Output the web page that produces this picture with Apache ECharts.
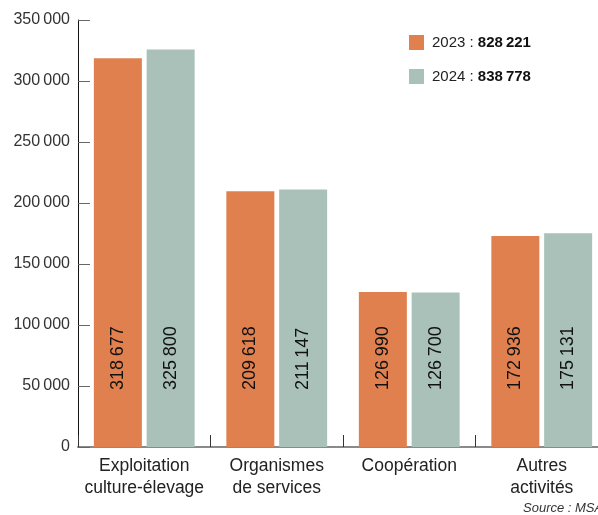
<!DOCTYPE html>
<html><head><meta charset="utf-8">
<script src="https://cdn.jsdelivr.net/npm/echarts@6/dist/echarts.min.js"></script>
<style>html,body{margin:0;padding:0;background:#fff}#c{width:598px;height:515px}</style>
</head><body><div id="c"></div>
<script>
const categories = ['Exploitation\nculture-élevage', 'Organismes\nde services', 'Coopération', 'Autres\nactivités'];
const years = ['2023', '2024'];
const values2023 = [318677, 209618, 126990, 172936];
const values2024 = [325800, 211147, 126700, 175131];
const yTicks = [0, 50000, 100000, 150000, 200000, 250000, 300000, 350000];
const colors = ['#E0804F', '#A9C1B9'];
const sourceText = 'Source : MSA';

function fmt(v) {
  return String(v).replace(/\B(?=(\d{3})+(?!\d))/g, '\u2009');
}
const totals = [values2023, values2024].map(a => a.reduce((s, v) => s + v, 0));
const FONT = '"Liberation Sans", Arial, sans-serif';

const chart = echarts.init(document.getElementById('c'));
const barLabel = {
  show: true, position: 'insideBottom', distance: 57, rotate: 90,
  align: 'left', verticalAlign: 'middle',
  fontFamily: FONT, fontSize: 18, color: '#111',
  formatter: p => fmt(p.value)
};
chart.setOption({
  animation: false,
  textStyle: { fontFamily: FONT },
  grid: { left: 78, top: 20, height: 427, width: 530, containLabel: false, outerBoundsMode: 'none' },
  legend: {
    orient: 'vertical', left: 404, top: 30, itemWidth: 15, itemHeight: 15, itemGap: 19,
    icon: 'rect',
    formatter: name => '{a|' + name + ' : }{b|' + fmt(totals[years.indexOf(name)]) + '}',
    textStyle: {
      padding: [0, 0, 0, 3],
      rich: {
        a: { fontFamily: FONT, fontSize: 15, color: '#222' },
        b: { fontFamily: FONT, fontSize: 15, color: '#111', fontWeight: 'bold' }
      }
    }
  },
  xAxis: {
    type: 'category', data: categories,
    axisLine: { lineStyle: { color: '#8a8a8a', width: 2 } },
    axisTick: { show: true, interval: 0, inside: true, length: 12, lineStyle: { color: '#333' } },
    axisLabel: { interval: 0, fontFamily: FONT, fontSize: 17.5, color: '#222', lineHeight: 22, margin: 8 }
  },
  yAxis: {
    type: 'value', min: yTicks[0], max: yTicks[yTicks.length - 1], interval: 50000,
    axisLine: { show: true, lineStyle: { color: '#111', width: 1 } },
    axisTick: { show: true, inside: true, length: 12, lineStyle: { color: '#666' } },
    splitLine: { show: false },
    axisLabel: { fontFamily: FONT, fontSize: 16, color: '#333', margin: 8, formatter: v => fmt(v) }
  },
  series: [
    { name: years[0], type: 'bar', data: values2023, barWidth: 48, barGap: '10%',
      itemStyle: { color: colors[0] }, label: barLabel },
    { name: years[1], type: 'bar', data: values2024, barWidth: 48, barGap: '10%',
      itemStyle: { color: colors[1] }, label: barLabel }
  ],
  graphic: [{
    type: 'text', left: 523, top: 502,
    style: { text: sourceText, fontFamily: FONT, fontSize: 13, fontStyle: 'italic', fill: '#333' }
  }]
});
</script></body></html>
